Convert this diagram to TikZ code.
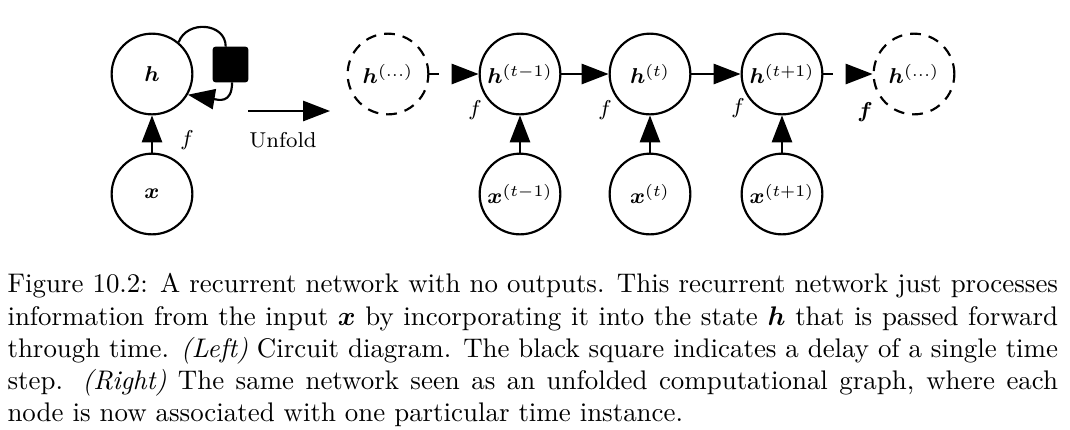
\documentclass[tikz,border=0pt]{standalone}
\usepackage{bm}
\usetikzlibrary{arrows.meta}
\begin{document}
\begin{tikzpicture}[x=0.3717pt,y=0.3717pt,
  every node/.style={font=\footnotesize},
  unit/.style={circle,draw,line width=0.8pt,minimum size=30pt,inner sep=0pt},
  ghost/.style={unit,dash pattern=on 4pt off 3pt},
  delay/.style={draw,fill=black,rounded corners=0.8pt,minimum size=12.5pt,inner sep=0pt,line width=0.8pt},
  arr/.style={line width=0.8pt,-{Triangle[length=10pt,width=7.5pt]}},
  darr/.style={arr,dash pattern=on 3.6pt off 12pt},
  lbl/.style={inner sep=0pt}]
\useasboundingbox (0,0) rectangle (1070,429);

% left: circuit diagram
\node[unit] (h) at (152,355) {$\bm{h}$};
\node[unit] (x) at (152,235) {$\bm{x}$};
\node[delay] (sq) at (230.5,364.5) {};
\draw[arr] (x) -- (h);
\draw[line width=0.8pt] (h.50) to[out=70,in=90,looseness=1.3] (sq.105);
\draw[arr] (sq.-85) .. controls +(0,-22) and +(30,-5) .. (h.-30);
\node[lbl] (fl) at (187,289) {$f$};

% unfold arrow
\coordinate (u1) at (248,318);
\coordinate (u2) at (330,318);
\draw[arr] (u1) -- (u2);
\node[lbl] (unf) at (283,289) {Unfold};

% right: unfolded graph
\node[ghost] (hd1) at (388,355) {$\bm{h}^{(\dots)}$};
\node[unit] (h1) at (520,355) {$\bm{h}^{(t-1)}$};
\node[unit] (h2) at (650,355) {$\bm{h}^{(t)}$};
\node[unit] (h3) at (782,355) {$\bm{h}^{(t+1)}$};
\node[ghost] (hd2) at (914,355) {$\bm{h}^{(\dots)}$};
\node[unit] (x1) at (520,235) {$\bm{x}^{(t-1)}$};
\node[unit] (x2) at (650,235) {$\bm{x}^{(t)}$};
\node[unit] (x3) at (782,235) {$\bm{x}^{(t+1)}$};

\draw[darr] (hd1) -- (h1);
\draw[arr] (h1) -- (h2);
\draw[arr] (h2) -- (h3);
\draw[darr] (h3) -- (hd2);
\draw[arr] (x1) -- (h1);
\draw[arr] (x2) -- (h2);
\draw[arr] (x3) -- (h3);

\node[lbl] (f1) at (475,319) {$f$};
\node[lbl] (f2) at (605,319) {$f$};
\node[lbl] (f3) at (738,321) {$f$};
\node[lbl] (f4) at (865,317) {$\bm{f}$};

% caption
\node[anchor=north west,inner sep=0pt,text width=390.5pt,align=justify,
      font=\fontsize{10}{12}\selectfont] (cap) at (7,156)
{Figure 10.2: A recurrent network with no outputs. This recurrent network just processes\linebreak
information from the input $\bm{x}$\ by incorporating it into the state $\bm{h}$ that is passed forward\linebreak
through time. \textit{(Left)} Circuit diagram. The black square indicates a delay of a single time\linebreak
step. \textit{(Right)} The same network seen as an unfolded computational graph, where each\linebreak
node is now associated with one particular time instance.};
\end{tikzpicture}
\end{document}
